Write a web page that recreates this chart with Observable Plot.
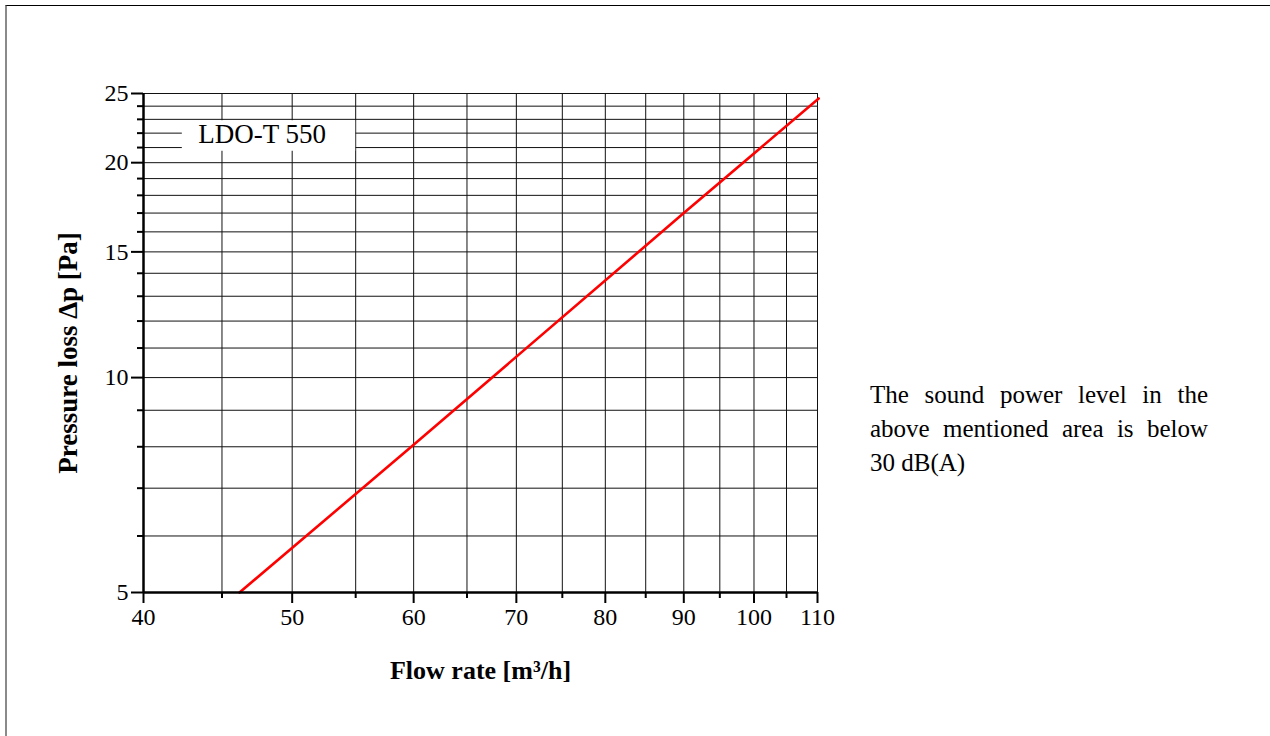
<!DOCTYPE html>
<html>
<head>
<meta charset="utf-8">
<script src="https://cdn.jsdelivr.net/npm/d3@7"></script>
<script src="https://cdn.jsdelivr.net/npm/@observablehq/plot@0.6"></script>
<style>
  html, body { margin: 0; padding: 0; background: #fff; }
  body { width: 1270px; height: 736px; position: relative; overflow: hidden; font-family: "Liberation Serif", "Times New Roman", serif; }
  #frame { position: absolute; left: 5px; top: 5px; width: 1270px; height: 740px; border-top: 1.5px solid #000; border-left: 2px solid #8a8a8a; box-sizing: border-box; pointer-events: none; }
  #chart { position: absolute; left: 0; top: 0; }
  #note { position: absolute; left: 870px; top: 378px; width: 338px; font-size: 25px; line-height: 34px; color: #000; }
  #note .j { text-align: justify; text-align-last: justify; white-space: nowrap; }
</style>
</head>
<body>
<div id="chart"></div>
<div id="frame"></div>
<div id="note">
  <div class="j">The sound power level in the</div>
  <div class="j">above mentioned area is below</div>
  <div>30 dB(A)</div>
</div>
<script>
// Tick values
const flowTicks = [40, 50, 60, 70, 80, 90, 100, 110];
const flowMinorTicks = [45, 55, 65, 75, 85, 95, 105];
const pressureTicks = [5, 10, 15, 20, 25];
const pressureMinorTicks = [6, 7, 8, 9, 11, 12, 13, 14, 16, 17, 18, 19, 21, 22, 23, 24];

// Series: LDO-T 550 pressure loss vs flow rate
const flow = [46.2, 60, 90, 110.2];
const pressure = [5, 8.05, 17, 24.6];

// Labels
const xTitle = "Flow rate [m³/h]";
const yTitle = "Pressure loss Δp [Pa]";
const seriesName = "LDO-T 550";

const series = flow.map((f, i) => ({flow: f, pressure: pressure[i]}));
const gridX = [...flowTicks, ...flowMinorTicks];
const gridY = [...pressureTicks, ...pressureMinorTicks];
const labelBox = [{x1: 42.4, x2: 55.0, y1: 20.75, y2: 22.9, cx: 47.8, cy: 21.9, name: seriesName}];

const chart = Plot.plot({
  width: 1270,
  height: 736,
  marginLeft: 143,
  marginRight: 453,
  marginTop: 93,
  marginBottom: 144,
  style: {fontFamily: "Liberation Serif, Times New Roman, serif", fontSize: "24px", color: "#000", background: "transparent"},
  x: {type: "log", domain: [40, 110], label: null},
  y: {type: "log", domain: [5, 25], label: null},
  marks: [
    Plot.ruleX(gridX, {stroke: "#111", strokeWidth: 1}),
    Plot.ruleY(gridY, {stroke: "#111", strokeWidth: 1}),
    Plot.rect(labelBox, {x1: "x1", x2: "x2", y1: "y1", y2: "y2", fill: "white"}),
    Plot.text(labelBox, {x: "cx", y: "cy", text: "name", fontSize: 27, fill: "#000"}),
    Plot.line(series, {x: "flow", y: "pressure", stroke: "#ff0000", strokeWidth: 2.6}),
    Plot.ruleX([40], {stroke: "#000", strokeWidth: 2.5}),
    Plot.ruleY([5], {stroke: "#000", strokeWidth: 2.5}),
    Plot.axisX(flowTicks, {tickSize: 11, tickPadding: 4, strokeWidth: 2, fontSize: 24, tickFormat: d => String(d), label: null}),
    Plot.axisX(flowMinorTicks, {tickSize: 6, strokeWidth: 2, tickFormat: () => "", label: null}),
    Plot.axisY(pressureTicks, {tickSize: 12, tickPadding: 3, strokeWidth: 2, fontSize: 24, tickFormat: d => String(d), label: null}),
    Plot.axisY(pressureMinorTicks, {tickSize: 6, strokeWidth: 2, tickFormat: () => "", label: null}),
    Plot.text([xTitle], {text: d => d, frameAnchor: "bottom", dy: 78, fontSize: 26, fontWeight: "bold", lineAnchor: "middle"}),
    Plot.text([yTitle], {text: d => d, frameAnchor: "left", dx: -75, dy: 10, rotate: -90, textAnchor: "middle", fontSize: 27, fontWeight: "bold", lineAnchor: "middle"})
  ]
});
document.getElementById("chart").appendChild(chart);
</script>
</body>
</html>
